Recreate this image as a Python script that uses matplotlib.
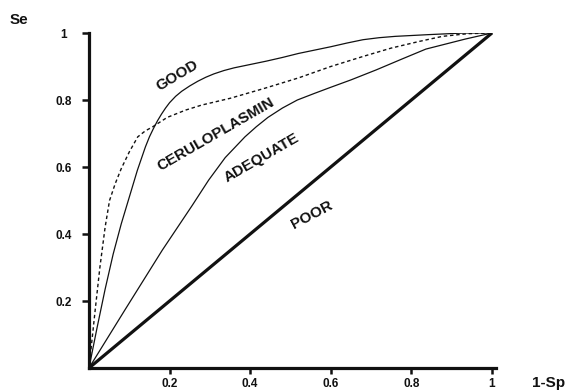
import matplotlib
matplotlib.use("Agg")
import matplotlib.pyplot as plt

plt.rcParams['font.family'] = ['Liberation Sans', 'DejaVu Sans']

# ROC curves (x = 1-Sp, y = Se)
good_x = [0, 0.02, 0.04, 0.06, 0.08, 0.10, 0.12, 0.14, 0.15, 0.16, 0.17, 0.18,
          0.19, 0.20, 0.215, 0.23, 0.25, 0.27, 0.29, 0.31, 0.335, 0.36, 0.40,
          0.44, 0.48, 0.52, 0.56, 0.60, 0.64, 0.68, 0.72, 0.76, 0.84, 0.93, 1.0]
good_y = [0, 0.12, 0.235, 0.34, 0.43, 0.51, 0.59, 0.66, 0.69, 0.715, 0.738, 0.758,
          0.776, 0.792, 0.811, 0.826, 0.842, 0.856, 0.868, 0.878, 0.888, 0.896, 0.906,
          0.916, 0.927, 0.939, 0.949, 0.959, 0.970, 0.980, 0.986, 0.990, 0.995, 1.0, 1.0]

cerulo_x = [0, 0.008, 0.016, 0.027, 0.04, 0.051, 0.065, 0.080, 0.10, 0.121, 0.14,
            0.158, 0.194, 0.24, 0.28, 0.35, 0.436, 0.52, 0.60, 0.68, 0.75, 0.82,
            0.877, 0.94, 1.0]
cerulo_y = [0, 0.09, 0.18, 0.30, 0.42, 0.50, 0.55, 0.595, 0.645, 0.69, 0.708,
            0.72, 0.748, 0.77, 0.785, 0.805, 0.835, 0.866, 0.90, 0.93, 0.955, 0.975,
            0.99, 0.998, 1.0]

adequate_x = [0, 0.09, 0.182, 0.256, 0.297, 0.338, 0.387, 0.415, 0.444, 0.48,
              0.517, 0.56, 0.60, 0.65, 0.713, 0.776, 0.836, 0.934, 1.0]
adequate_y = [0, 0.175, 0.352, 0.485, 0.561, 0.628, 0.69, 0.72, 0.748, 0.776,
              0.80, 0.82, 0.838, 0.86, 0.89, 0.922, 0.952, 0.982, 1.0]

poor_x = [0, 1]
poor_y = [0, 1]

ticks = [0.2, 0.4, 0.6, 0.8, 1]
tick_labels = ['0.2', '0.4', '0.6', '0.8', '1']

# curve labels: (text, x, y, angle)
labels = [('GOOD', 0.218, 0.872, 31),
          ('CERULOPLASMIN', 0.314, 0.696, 30),
          ('ADEQUATE', 0.429, 0.627, 30),
          ('POOR', 0.554, 0.457, 28)]

fig = plt.figure(figsize=(5.73, 3.92), dpi=100)
ax = fig.add_axes([0.1553, 0.0612, 0.7103, 0.8546])

ink = '#111111'
ax.plot(good_x, good_y, color=ink, lw=0.9)
ax.plot(cerulo_x, cerulo_y, color=ink, lw=1.0, dashes=(2.5, 2))
ax.plot(adequate_x, adequate_y, color=ink, lw=0.9)
ax.plot(poor_x, poor_y, color=ink, lw=2.3, solid_capstyle='butt')

for txt, x, y, ang in labels:
    ax.text(x, y, txt, rotation=ang, rotation_mode='anchor', ha='center', va='center',
            fontsize=11, fontweight='bold', color=ink)

ax.set_xlim(0, 1.01)
ax.set_ylim(0, 1.0)

for side in ['top', 'right']:
    ax.spines[side].set_visible(False)
for side in ['left', 'bottom']:
    ax.spines[side].set_linewidth(2.3)
    ax.spines[side].set_color(ink)
    ax.spines[side].set_capstyle('projecting')

ax.set_xticks(ticks)
ax.set_xticklabels(tick_labels)
ax.set_yticks(ticks)
ax.set_yticklabels(tick_labels)
ax.tick_params(axis='x', direction='out', length=4, width=1.8, pad=3, labelsize=8.5, colors=ink)
ax.tick_params(axis='y', direction='out', length=5, width=1.8, pad=13, labelsize=8.5, colors=ink)
for lab in ax.get_xticklabels() + ax.get_yticklabels():
    lab.set_fontweight('bold')
for lab in ax.get_yticklabels():
    lab.set_horizontalalignment('center')

fig.text(19 / 573, 1 - 20 / 392, 'Se', ha='center', va='center', fontsize=11, fontweight='bold', color=ink)
fig.text(549 / 573, 1 - 383 / 392, '1-Sp', ha='center', va='center', fontsize=11, fontweight='bold', color=ink)

fig.savefig('out.png', dpi=100)
